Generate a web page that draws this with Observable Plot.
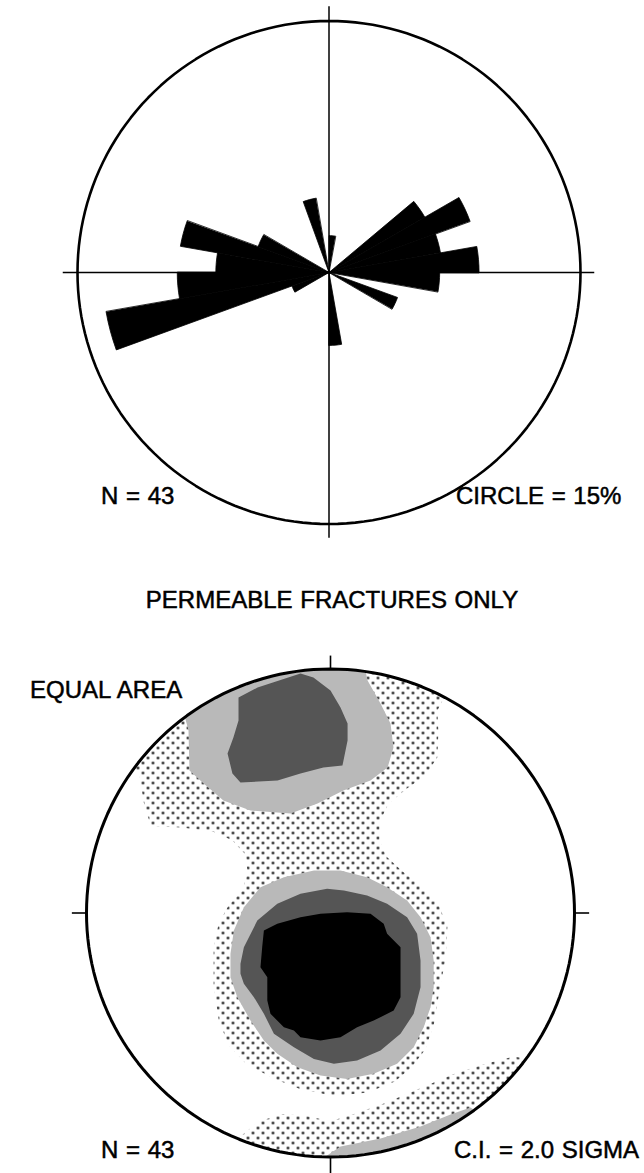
<!DOCTYPE html>
<html>
<head>
<meta charset="utf-8">
<script src="https://cdn.jsdelivr.net/npm/d3@7"></script>
<script src="https://cdn.jsdelivr.net/npm/@observablehq/plot@0.6"></script>
<style>
html, body { margin: 0; padding: 0; background: #fff; }
#page { position: relative; width: 644px; height: 1173px; overflow: hidden;
  font-family: "Liberation Sans", Arial, Helvetica, sans-serif; color: #000; }
.lbl { position: absolute; font-size: 24px; line-height: 24px; white-space: nowrap;
  -webkit-text-stroke: 0.5px #000; word-spacing: 1px; }
#rose, #net { position: absolute; left: 0; }
#rose { top: 0; }
#net { top: 620px; }
</style>
</head>
<body>
<svg width="0" height="0" style="position:absolute">
  <defs>
    <pattern id="dots" patternUnits="userSpaceOnUse" width="10" height="10">
      <circle cx="2.5" cy="2.5" r="1.3" fill="#000"/>
      <circle cx="7.5" cy="7.5" r="1.3" fill="#000"/>
    </pattern>
    <pattern id="light" patternUnits="userSpaceOnUse" width="2" height="2">
      <rect width="2" height="2" fill="#dcdcdc"/>
      <rect width="1" height="1" fill="#505050"/>
    </pattern>
    <pattern id="dark" patternUnits="userSpaceOnUse" width="2" height="2">
      <rect width="2" height="2" fill="#6c6c6c"/>
      <rect width="1" height="1" fill="#111"/>
    </pattern>
  </defs>
</svg>
<div id="page">
  <div id="rose"></div>
  <div id="net"></div>
  <div class="lbl" style="left:101px; top:484px;">N = 43</div>
  <div class="lbl" style="left:456px; top:484px;">CIRCLE = 15%</div>
  <div class="lbl" style="left:0; width:664px; text-align:center; top:588px;">PERMEABLE FRACTURES ONLY</div>
  <div class="lbl" style="left:30px; top:678px;">EQUAL AREA</div>
  <div class="lbl" style="left:101px; top:1138px;">N = 43</div>
  <div class="lbl" style="left:454px; top:1138px;">C.I. = 2.0 SIGMA</div>
</div>
<script>
// ---------- Rose diagram data (10° bins, azimuth of bin start, percent of N) ----------
const roseBinStart   = [0,   50,  60,   70,   80,   90,  110,  170,  240,  250,  260,  270,  280, 290, 340];
const roseBinPercent = [2.2, 6.6, 8.95, 6.75, 8.95, 6.6, 4.35, 4.35, 2.35, 13.5, 9.05, 6.75, 9.0, 4.5, 4.5];
const roseBinWidth = 10;
const roseCirclePercent = 15;
const roseAxisReach = 15.85;

// ---------- Equal-area net contour polygons (net radius = 1, x east, y north) ----------
const dotsMain = [[-0.95,0.62],[-0.72,0.86],[-0.35,1.05],[0.15,1.08],[0.5,0.95],
  [0.438,0.830],[0.442,0.742],[0.438,0.638],[0.389,0.564],[0.306,0.505],[0.236,0.446],[0.201,0.372],
  [0.201,0.298],[0.229,0.232],[0.292,0.173],[0.375,0.106],[0.444,0.032],[0.479,-0.056],[0.472,-0.189],
  [0.451,-0.292],[0.424,-0.455],[0.389,-0.558],[0.333,-0.632],[0.264,-0.691],[0.153,-0.736],[0.014,-0.750],
  [-0.125,-0.721],[-0.236,-0.677],[-0.347,-0.617],[-0.417,-0.543],[-0.458,-0.440],[-0.479,-0.292],
  [-0.479,-0.145],[-0.458,-0.041],[-0.417,0.032],[-0.361,0.092],[-0.340,0.165],[-0.347,0.239],
  [-0.403,0.298],[-0.486,0.335],[-0.611,0.350],[-0.736,0.357],[-0.764,0.446],[-0.785,0.579]];
const dotsBand = [[-0.347,-0.898],[-0.292,-0.853],[-0.194,-0.824],[-0.097,-0.832],[0,-0.853],[0.097,-0.824],
  [0.222,-0.780],[0.361,-0.721],[0.5,-0.662],[0.639,-0.617],[0.75,-0.588],[0.82,-0.6],[0.95,-0.7],
  [0.5,-1.1],[-0.3,-1.1],[-0.42,-0.96]];
const grayUpper = [[-0.615,0.871],[-0.582,0.748],[-0.578,0.584],[-0.520,0.531],[-0.439,0.461],[-0.328,0.420],
  [-0.164,0.408],[-0.053,0.449],[0.053,0.502],[0.164,0.543],[0.234,0.596],[0.258,0.678],[0.246,0.777],
  [0.205,0.859],[0.152,0.953],[0.131,1.05],[-0.2,1.1],[-0.5,0.95]];
const grayLower = [[-0.355,0.024],[-0.287,0.106],[-0.191,0.147],[-0.068,0.174],[0.041,0.174],[0.150,0.147],
  [0.232,0.106],[0.314,0.051],[0.369,-0.017],[0.410,-0.099],[0.423,-0.195],[0.423,-0.304],[0.410,-0.386],
  [0.382,-0.468],[0.341,-0.550],[0.273,-0.618],[0.177,-0.659],[0.068,-0.680],[-0.041,-0.666],[-0.136,-0.632],
  [-0.218,-0.577],[-0.273,-0.523],[-0.328,-0.441],[-0.382,-0.345],[-0.410,-0.263],[-0.410,-0.167],[-0.396,-0.072]];
const grayBand = [[-0.020,-0.998],[0.041,-0.957],[0.205,-0.924],[0.369,-0.875],[0.492,-0.826],[0.574,-0.797],
  [0.65,-0.85],[0.2,-1.1],[-0.05,-1.05]];
const darkUpper = [[-0.377,0.883],[-0.299,0.924],[-0.123,0.982],[-0.070,0.965],[0,0.912],[0.041,0.842],
  [0.070,0.777],[0.070,0.707],[0.049,0.604],[-0.029,0.596],[-0.123,0.572],[-0.217,0.543],[-0.369,0.535],
  [-0.402,0.572],[-0.422,0.654],[-0.398,0.719],[-0.377,0.789]];
const darkLower = [[-0.369,-0.208],[-0.355,-0.140],[-0.300,-0.031],[-0.218,0.038],[-0.123,0.079],[-0.014,0.099],
  [0.055,0.092],[0.150,0.072],[0.232,0.038],[0.314,-0.017],[0.355,-0.085],[0.369,-0.195],[0.369,-0.304],
  [0.341,-0.413],[0.287,-0.495],[0.205,-0.564],[0.109,-0.605],[0.014,-0.618],[-0.068,-0.598],[-0.150,-0.550],
  [-0.232,-0.495],[-0.273,-0.413],[-0.314,-0.345],[-0.355,-0.290],[-0.369,-0.249]];
const blackCore = [[-0.273,-0.072],[-0.218,-0.044],[-0.123,-0.017],[-0.041,-0.003],[0.068,0.003],[0.164,-0.003],
  [0.218,-0.044],[0.232,-0.085],[0.287,-0.140],[0.287,-0.236],[0.287,-0.345],[0.259,-0.400],[0.177,-0.441],
  [0.109,-0.468],[0.041,-0.509],[-0.041,-0.523],[-0.123,-0.509],[-0.150,-0.482],[-0.191,-0.468],[-0.246,-0.413],
  [-0.259,-0.359],[-0.259,-0.263],[-0.287,-0.222],[-0.280,-0.140]];
const netTickReach = 1.06;

// ---------- Rose diagram ----------
const toRad = Math.PI / 180;
const wedges = roseBinStart.flatMap((start, i) => {
  const pct = roseBinPercent[i];
  const pts = [{id: i, x: 0, y: 0}];
  for (let k = 0; k <= 4; k++) {
    const a = (start + roseBinWidth * k / 4) * toRad;
    pts.push({id: i, x: pct * Math.sin(a), y: pct * Math.cos(a)});
  }
  return pts;
});
const roseRing = d3.range(0, 361, 2).map(a => ({x: roseCirclePercent * Math.sin(a * toRad), y: roseCirclePercent * Math.cos(a * toRad)}));

const rose = Plot.plot({
  width: 644, height: 560, margin: 0,
  style: {background: "transparent", overflow: "visible"},
  x: {domain: [-roseCirclePercent, roseCirclePercent], range: [77, 580], axis: null},
  y: {domain: [-roseCirclePercent, roseCirclePercent], range: [523.5, 20.5], axis: null},
  marks: [
    Plot.line(wedges, {x: "x", y: "y", z: "id", curve: "linear-closed", fill: "black", stroke: "black", strokeWidth: 0.8}),
    Plot.ruleX([{x: 0, y1: -roseAxisReach, y2: roseAxisReach}], {x: "x", y1: "y1", y2: "y2", stroke: "black", strokeWidth: 1.5}),
    Plot.ruleY([{y: 0, x1: -roseAxisReach, x2: roseAxisReach}], {y: "y", x1: "x1", x2: "x2", stroke: "black", strokeWidth: 1.5}),
    Plot.line(roseRing, {x: "x", y: "y", stroke: "black", strokeWidth: 2.6})
  ]
});
document.getElementById("rose").appendChild(rose);

// ---------- Equal-area net ----------
const asRows = (poly, id) => poly.map(([x, y]) => ({id, x, y}));
const layers = [
  {polys: [dotsMain, dotsBand], fill: "url(#dots)"},
  {polys: [grayUpper, grayLower, grayBand], fill: "url(#light)"},
  {polys: [darkUpper, darkLower], fill: "url(#dark)"},
  {polys: [blackCore], fill: "#000"}
];
const netRing = d3.range(0, 361, 2).map(a => ({x: Math.sin(a * toRad), y: Math.cos(a * toRad)}));
const ticks = [
  {x1: 0, y1: 1, x2: 0, y2: netTickReach - 0.005},
  {x1: 0, y1: -1, x2: 0, y2: -netTickReach - 0.01},
  {x1: -1, y1: 0, x2: -netTickReach, y2: 0},
  {x1: 1, y1: 0, x2: netTickReach, y2: 0}
];

const net = Plot.plot({
  width: 644, height: 553, margin: 0,
  style: {background: "transparent", overflow: "visible"},
  x: {domain: [-1, 1], range: [86, 574], axis: null},
  y: {domain: [-1, 1], range: [536.5, 48.5], axis: null},
  marks: [
    ...layers.map(L => Plot.line(L.polys.flatMap((p, i) => asRows(p, i)),
      {x: "x", y: "y", z: "id", curve: "linear-closed", fill: L.fill, stroke: "none"})),
    Plot.link(ticks, {x1: "x1", y1: "y1", x2: "x2", y2: "y2", stroke: "black", strokeWidth: 1.6}),
    Plot.line(netRing, {x: "x", y: "y", stroke: "black", strokeWidth: 3})
  ]
});
document.getElementById("net").appendChild(net);

// clip the contour layers to the primitive circle
const sx = net.scale("x"), sy = net.scale("y");
const cx = sx.apply(0), cy = sy.apply(0), cr = sx.apply(1) - cx;
const ns = "http://www.w3.org/2000/svg";
const defs = document.createElementNS(ns, "defs");
const cp = document.createElementNS(ns, "clipPath");
cp.setAttribute("id", "netclip");
const cc = document.createElementNS(ns, "circle");
cc.setAttribute("cx", cx); cc.setAttribute("cy", cy); cc.setAttribute("r", cr);
cp.appendChild(cc); defs.appendChild(cp); net.insertBefore(defs, net.firstChild);
const lineGroups = [...net.querySelectorAll('g[aria-label="line"]')];
lineGroups.slice(0, layers.length).forEach(g => g.setAttribute("clip-path", "url(#netclip)"));
</script>
</body>
</html>
